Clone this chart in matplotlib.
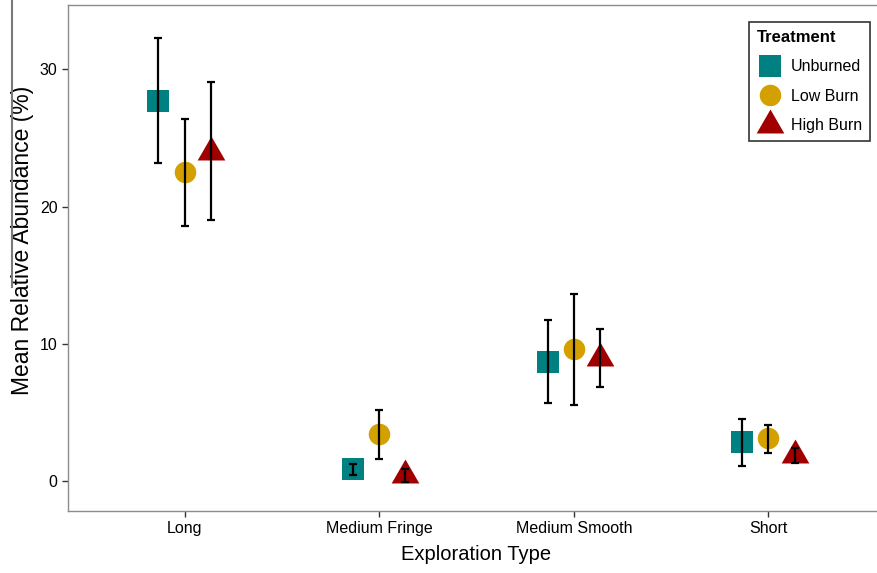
import numpy as np
import matplotlib
matplotlib.use("Agg")
import matplotlib.pyplot as plt
from matplotlib.path import Path
from matplotlib.lines import Line2D

plt.rcParams['font.family'] = ['Liberation Sans', 'DejaVu Sans']

categories = ["Long", "Medium Fringe", "Medium Smooth", "Short"]
treatments = ["Unburned", "Low Burn", "High Burn"]

# mean, lower, upper for each treatment
unburned_mean = [27.7, 0.85, 8.7, 2.8]
unburned_low = [23.2, 0.45, 5.7, 1.1]
unburned_high = [32.3, 1.25, 11.7, 4.5]

lowburn_mean = [22.5, 3.4, 9.6, 3.1]
lowburn_low = [18.6, 1.6, 5.55, 2.05]
lowburn_high = [26.4, 5.2, 13.65, 4.1]

highburn_mean = [24.0, 0.42, 8.97, 1.88]
highburn_low = [19.0, -0.05, 6.85, 1.3]
highburn_high = [29.05, 0.88, 11.1, 2.42]

colors = ["#008080", "#D4A000", "#A00000"]

# R style triangle, centred on its centroid
tri = Path([(0, 1.555), (-1.347, -0.778), (1.347, -0.778), (0, 1.555)],
           [Path.MOVETO, Path.LINETO, Path.LINETO, Path.CLOSEPOLY])
markers = ["s", "o", tri]
msizes = [16, 15.5, 23]

series = [
    (unburned_mean, unburned_low, unburned_high),
    (lowburn_mean, lowburn_low, lowburn_high),
    (highburn_mean, highburn_low, highburn_high),
]

fig = plt.figure(figsize=(8.78, 5.73), dpi=100)
ax = fig.add_axes([68 / 878, 1 - 511 / 573, 817 / 878, 506 / 573])

x = np.arange(1, len(categories) + 1)
offsets = [-0.135, 0, 0.135]
for i, (mean, lo, hi) in enumerate(series):
    xs = x + offsets[i]
    mean = np.array(mean)
    yerr = [mean - np.array(lo), np.array(hi) - mean]
    ax.plot(xs, mean, linestyle="none", marker=markers[i], markersize=msizes[i],
            color=colors[i], markeredgewidth=0, zorder=2)
    ax.errorbar(xs, mean, yerr=yerr, fmt="none", ecolor="black", elinewidth=1.6,
                capsize=2.8, capthick=1.6, zorder=3)

ax.set_xlim(0.4, 4.6)
ax.set_ylim(-2.2, 34.7)
ax.set_xticks(x)
ax.set_xticklabels(categories)
ax.set_yticks([0, 10, 20, 30])

for s in ax.spines.values():
    s.set_color("#8c8c8c")
    s.set_linewidth(1.0)
ax.tick_params(colors="#333333", labelcolor="black", labelsize=11.5, length=4, width=1)

ax.set_xlabel("Exploration Type", fontsize=14.5, labelpad=6)
ax.set_ylabel("Mean Relative Abundance (%)", fontsize=16.5)
ax.yaxis.set_label_coords(-0.0415, 0.534)

handles = [Line2D([], [], linestyle="none", marker=markers[i], markersize=msizes[i],
                  color=colors[i], markeredgewidth=0) for i in range(3)]
leg = fig.legend(handles, treatments, loc="upper right",
                 bbox_to_anchor=(870 / 878, 1 - 22 / 573), borderaxespad=0,
                 fontsize=11.5,
                 title="Treatment", title_fontproperties={"weight": "bold", "size": 12},
                 alignment="left", frameon=True, fancybox=False, edgecolor="black",
                 borderpad=0.5, labelspacing=0.9, handletextpad=0.5, handlelength=1.6)
leg.get_frame().set_linewidth(1.2)

# stray vertical line at left edge
fig.add_artist(Line2D([12 / 878, 12 / 878], [1, 1 - 287 / 573], color="#7a7a7a",
                      linewidth=1.5, transform=fig.transFigure))

fig.savefig("out.png", dpi=100)
